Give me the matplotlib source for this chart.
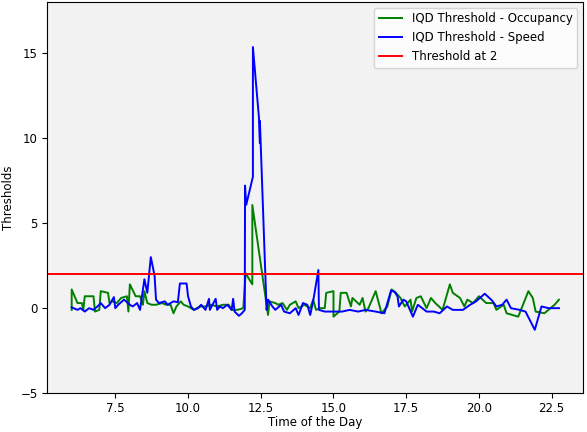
import matplotlib.pyplot as plt

### data (hour of day, threshold value)
occ_time = [6.0, 6.0, 6.2, 6.35, 6.4, 6.45, 6.75, 6.8, 6.95, 7.0, 7.25, 7.3, 7.4, 7.55,
            7.7, 7.9, 7.95, 8.0, 8.2, 8.35, 8.45, 8.5, 8.6, 8.75, 8.9, 9.1, 9.25, 9.4,
            9.5, 9.6, 9.75, 9.85, 10.0, 10.2, 10.4, 10.6, 10.8, 11.0, 11.2, 11.4, 11.5,
            11.7, 11.9, 11.98, 12.21, 12.21, 12.75, 12.8, 13.0, 13.1, 13.25, 13.4, 13.5,
            13.7, 13.8, 14.0, 14.2, 14.3, 14.4, 14.55, 14.7, 14.75, 15.0, 15.0, 15.2,
            15.25, 15.45, 15.6, 15.65, 15.9, 16.0, 16.1, 16.2, 16.45, 16.65, 16.85, 17.0,
            17.15, 17.3, 17.45, 17.65, 17.7, 17.85, 18.0, 18.2, 18.35, 18.5, 18.75,
            18.85, 19.0, 19.1, 19.35, 19.5, 19.6, 19.8, 20.0, 20.25, 20.5, 20.6, 20.85,
            20.95, 21.35, 21.7, 21.85, 21.95, 22.25, 22.6, 22.75]
occ_value = [-0.1, 1.1, 0.3, 0.3, -0.1, 0.7, 0.7, -0.2, -0.1, 1.0, 0.9, 0.3, 0.4, 0.3,
             0.6, 0.7, -0.2, 1.4, 0.7, 0.7, 0.2, 1.0, 0.3, 0.2, 0.2, 0.3, 0.2, 0.2,
             -0.3, 0.1, 0.4, 0.2, 0.1, -0.1, 0.1, 0.1, 0.2, 0.1, 0.2, 0.2, -0.1,
             -0.1, 0.0, 2.05, 1.4, 6.06, -0.4, 0.4, 0.3, 0.2, 0.3, -0.1, 0.2,
             0.4, 0.0, 0.2, 0.0, 0.5, -0.1, 0.0, 0.0, 0.9, 1.0, -0.5, -0.2,
             0.9, 0.9, 0.1, 0.6, 0.2, 0.6, -0.2, 0.0, 1.0, -0.3, 0.1, 1.1,
             0.9, 0.6, 0.1, 0.5, -0.2, 0.6, 0.7, 0.0, 0.6, 0.3, -0.1,
             0.5, 1.4, 0.9, 0.6, 0.1, 0.5, 0.3, 0.7, 0.3, 0.3, -0.1, 0.2,
             -0.3, -0.5, 1.0, 0.6, -0.2, -0.3, 0.2, 0.5]

speed_time = [6.0, 6.2, 6.3, 6.45, 6.6, 6.75, 6.95, 7.0, 7.15, 7.3, 7.45, 7.5, 7.6, 7.8,
              8.0, 8.1, 8.25, 8.35, 8.5, 8.6, 8.72, 8.85, 8.9, 9.0, 9.2, 9.3, 9.5, 9.65,
              9.72, 9.95, 10.0, 10.1, 10.2, 10.35, 10.45, 10.6, 10.72, 10.75, 10.95, 11.0,
              11.1, 11.2, 11.35, 11.5, 11.55, 11.6, 11.75, 11.85, 11.95, 11.96, 12.0,
              12.23, 12.23, 12.44, 12.47, 12.47, 12.7, 12.75, 12.9, 13.0, 13.2, 13.3,
              13.5, 13.7, 13.8, 13.95, 14.1, 14.2, 14.3, 14.48, 14.5, 14.7, 15.0, 15.3,
              15.55, 15.85, 16.1, 16.45, 16.75, 16.98, 17.1, 17.2, 17.25, 17.4, 17.5,
              17.73, 17.9, 18.2, 18.45, 18.65, 18.9, 19.1, 19.45, 19.7, 19.9, 20.2,
              20.45, 20.6, 20.8, 20.95, 21.1, 21.4, 21.6, 21.75, 21.92, 22.15, 22.4, 22.75]
speed_value = [0.05, -0.1, 0.0, -0.2, 0.0, -0.1, 0.2, 0.3, 0.0, 0.2, 0.65, 0.0, 0.2, 0.5,
               0.2, 0.1, 0.3, -0.1, 1.7, 0.9, 3.0, 1.9, 0.5, 0.3, 0.4, 0.2, 0.4, 0.35,
               1.45, 1.45, 0.7, 0.1, -0.1, 0.0, 0.2, -0.1, 0.55, -0.1, 0.55, -0.1,
               0.1, 0.0, 0.2, -0.1, 0.55, -0.2, -0.45, -0.3, -0.1, 7.2, 6.07,
               7.72, 15.34, 11.14, 9.7, 11.0, -0.1, 0.5, 0.1, -0.1, 0.2, -0.2,
               -0.3, 0.0, -0.4, 0.3, 0.2, -0.4, 0.4, 2.24, -0.1, -0.2, -0.2, -0.2,
               -0.1, -0.2, -0.1, -0.2, -0.3, 1.05, 0.95, 0.7, 0.1, 0.5, 0.4,
               -0.5, 0.2, -0.2, -0.2, -0.3, 0.1, -0.1, -0.1, 0.2, 0.4, 0.85,
               0.45, 0.1, 0.2, 0.5, 0.0, -0.1, -0.2, -0.7, -1.27, 0.1, 0.0, 0.0]

threshold = 2

plt.rcParams['font.size'] = 8.5
fig = plt.figure(figsize=(5.87, 4.32), dpi=100)
ax = fig.add_axes([0.0806, 0.0896, 0.9131, 0.9064])
ax.set_facecolor('#f2f2f2')

ax.plot(occ_time, occ_value, color='g', lw=1.4, label='IQD Threshold - Occupancy')
ax.plot(speed_time, speed_value, color='b', lw=1.4, label='IQD Threshold - Speed')
ax.axhline(threshold, color='r', lw=1.4, label='Threshold at 2')

ax.set_ylim(-5, 18)
ax.set_yticks([-5, 0, 5, 10, 15])
ax.tick_params(axis='x', pad=2.5)
ax.set_xlabel('Time of the Day', labelpad=1)
ax.set_ylabel('Thresholds')
ax.legend(loc='upper right')

fig.savefig('out.png', dpi=100)
